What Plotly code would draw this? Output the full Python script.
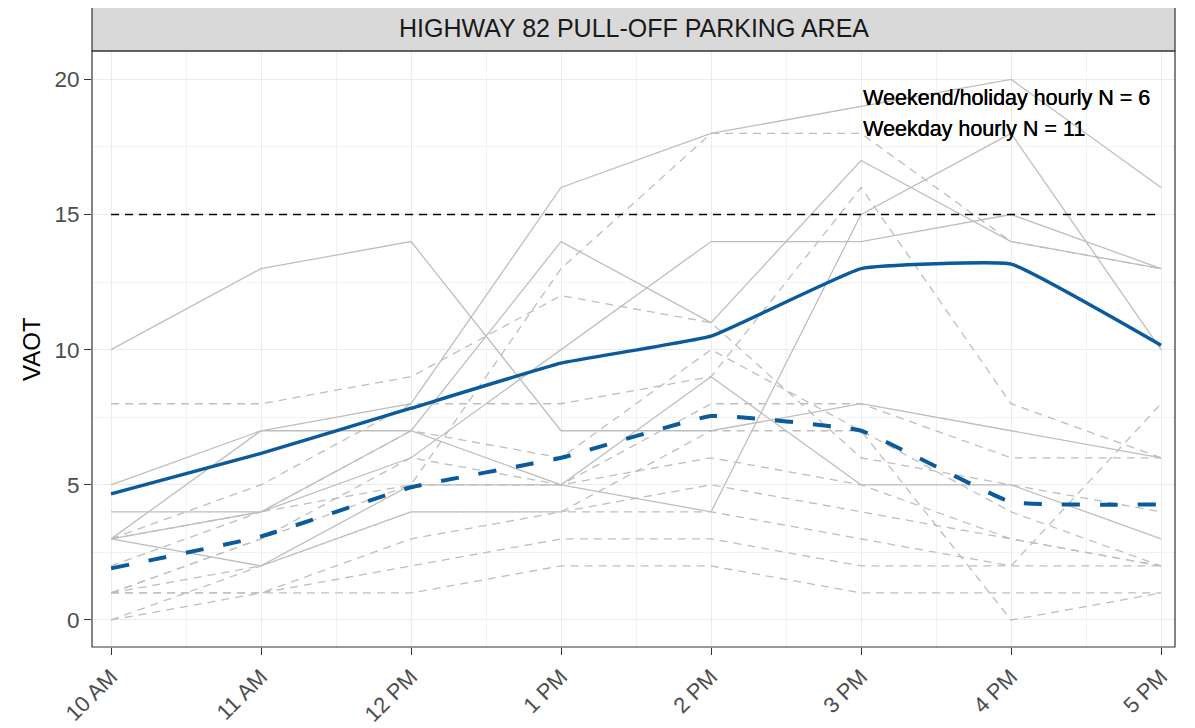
import plotly.graph_objects as go

hours = [10, 11, 12, 13, 14, 15, 16, 17]
hour_labels = ["10 AM", "11 AM", "12 PM", "1 PM", "2 PM", "3 PM", "4 PM", "5 PM"]

# Weekend/holiday hourly counts (solid gray)
weekend_a = [10, 13, 14, 7, 7, 8, 7, 6]
weekend_b = [5, 7, 8, 16, 18, 19, 20, 16]
weekend_c = [3, 7, 7, 5, 4, 15, 18, 10]
weekend_d = [4, 4, 7, 14, 11, 17, 14, 13]
weekend_e = [3, 4, 6, 10, 14, 14, 15, 13]
weekend_f = [3, 2, 5, 5, 9, 5, 5, 3]

# Weekday hourly counts (dashed gray)
weekday_1 = [8, 8, 9, 12, 11, 6, 5, 4]
weekday_2 = [3, 4, 5, 13, 18, 18, 14, 13]
weekday_3 = [3, 5, 8, 8, 9, 16, 8, 6]
weekday_4 = [2, 4, 7, 6, 10, 7, 0, 1]
weekday_5 = [1, 3, 6, 5, 8, 8, 6, 6]
weekday_6 = [1, 3, 5, 5, 6, 5, 3, 2]
weekday_7 = [1, 2, 4, 4, 7, 7, 4, 2]
weekday_8 = [1, 1, 3, 4, 5, 4, 3, 2]
weekday_9 = [1, 1, 1, 2, 2, 1, 1, 1]
weekday_10 = [0, 2, 4, 4, 4, 3, 2, 8]
weekday_11 = [0, 1, 2, 3, 3, 2, 2, 2]

weekend = [weekend_a, weekend_b, weekend_c, weekend_d, weekend_e, weekend_f]
weekday = [weekday_1, weekday_2, weekday_3, weekday_4, weekday_5, weekday_6,
           weekday_7, weekday_8, weekday_9, weekday_10, weekday_11]

threshold = 15
note_weekend = "Weekend/holiday hourly N = 6"
note_weekday = "Weekday hourly N = 11"
strip_title = "HIGHWAY 82 PULL-OFF PARKING AREA"
y_title = "VAOT"

weekend_mean = [sum(v) / len(v) for v in zip(*weekend)]
weekday_mean = [sum(v) / len(v) for v in zip(*weekday)]

GRAY = "#bebebe"
BLUE = "#0b5a9c"
FONT = "Liberation Sans, Arial, sans-serif"

fig = go.Figure()
for s in weekday:
    fig.add_trace(go.Scatter(x=hours, y=s, mode="lines", hoverinfo="skip",
                             line=dict(color=GRAY, width=1.3, dash="8px,6px"),
                             showlegend=False))
for s in weekend:
    fig.add_trace(go.Scatter(x=hours, y=s, mode="lines", hoverinfo="skip",
                             line=dict(color=GRAY, width=1.3),
                             showlegend=False))
fig.add_trace(go.Scatter(x=hours, y=weekend_mean, mode="lines",
                         line=dict(color=BLUE, width=3.4, shape="spline", smoothing=0.3),
                         showlegend=False))
fig.add_trace(go.Scatter(x=hours, y=weekday_mean, mode="lines",
                         line=dict(color=BLUE, width=4, dash="18px,20px", shape="spline", smoothing=0.3),
                         showlegend=False))
fig.add_trace(go.Scatter(x=[hours[0], hours[-1]], y=[threshold, threshold], mode="lines",
                         line=dict(color="black", width=1.6, dash="8px,6px"),
                         showlegend=False, hoverinfo="skip"))

note_font = dict(family=FONT, size=21.5, color="black", shadow="0.35px 0 0 black")
fig.add_annotation(x=15, y=19.3, xref="x", yref="y", text=note_weekend, showarrow=False,
                   xanchor="left", yanchor="middle", font=note_font)
fig.add_annotation(x=15, y=18.15, xref="x", yref="y", text=note_weekday, showarrow=False,
                   xanchor="left", yanchor="middle", font=note_font)

# facet strip
strip_h = 46 / 596
fig.add_shape(type="rect", xref="paper", yref="paper", x0=0, x1=1, y0=1.0, y1=1.0 + strip_h,
              fillcolor="#d9d9d9", line=dict(color="#333333", width=1.2), layer="above")
fig.add_annotation(x=0.5, y=1.0 + strip_h / 2, xref="paper", yref="paper", text=strip_title,
                   showarrow=False, xanchor="center", yanchor="middle",
                   font=dict(family=FONT, size=25, color="#1a1a1a"))
# y-axis title
fig.add_annotation(x=-61 / 1083, y=0.5, xref="paper", yref="paper", text=y_title,
                   showarrow=False, xanchor="center", yanchor="middle", textangle=-90,
                   font=dict(family=FONT, size=24, color="black"))
# panel border
fig.add_shape(type="rect", xref="paper", yref="paper", x0=0, x1=1, y0=0, y1=1,
              line=dict(color="#333333", width=1.2), layer="above")

fig.update_layout(
    width=1195, height=728,
    margin=dict(l=84, r=28, t=43, b=89, autoexpand=False),
    paper_bgcolor="white", plot_bgcolor="white",
    font=dict(family=FONT),
)
fig.update_xaxes(
    range=[10 - 0.127, 17.093], tickmode="array", tickvals=hours, ticktext=hour_labels,
    tickangle=-45, ticks="outside", ticklen=7, tickcolor="#333333", tickwidth=1.2,
    tickfont=dict(family=FONT, size=22, color="#4d4d4d"), automargin=False,
    showgrid=True, gridcolor="#ebebeb", gridwidth=1.3, zeroline=False, showline=False,
    minor=dict(tickmode="array", tickvals=[h + 0.5 for h in hours[:-1]], showgrid=True,
               gridcolor="#f2f2f2", gridwidth=0.8, ticks=""),
)
fig.update_yaxes(
    range=[-1.0, 21.05], tickmode="array", tickvals=[0, 5, 10, 15, 20],
    ticks="outside", ticklen=7, tickcolor="#333333", tickwidth=1.2,
    tickfont=dict(family=FONT, size=22.5, color="#4d4d4d"), automargin=False,
    showgrid=True, gridcolor="#ebebeb", gridwidth=1.3, zeroline=False, showline=False,
    minor=dict(tickmode="array", tickvals=[2.5, 7.5, 12.5, 17.5], showgrid=True,
               gridcolor="#f2f2f2", gridwidth=0.8, ticks=""),
)

fig.write_html("out.html")
